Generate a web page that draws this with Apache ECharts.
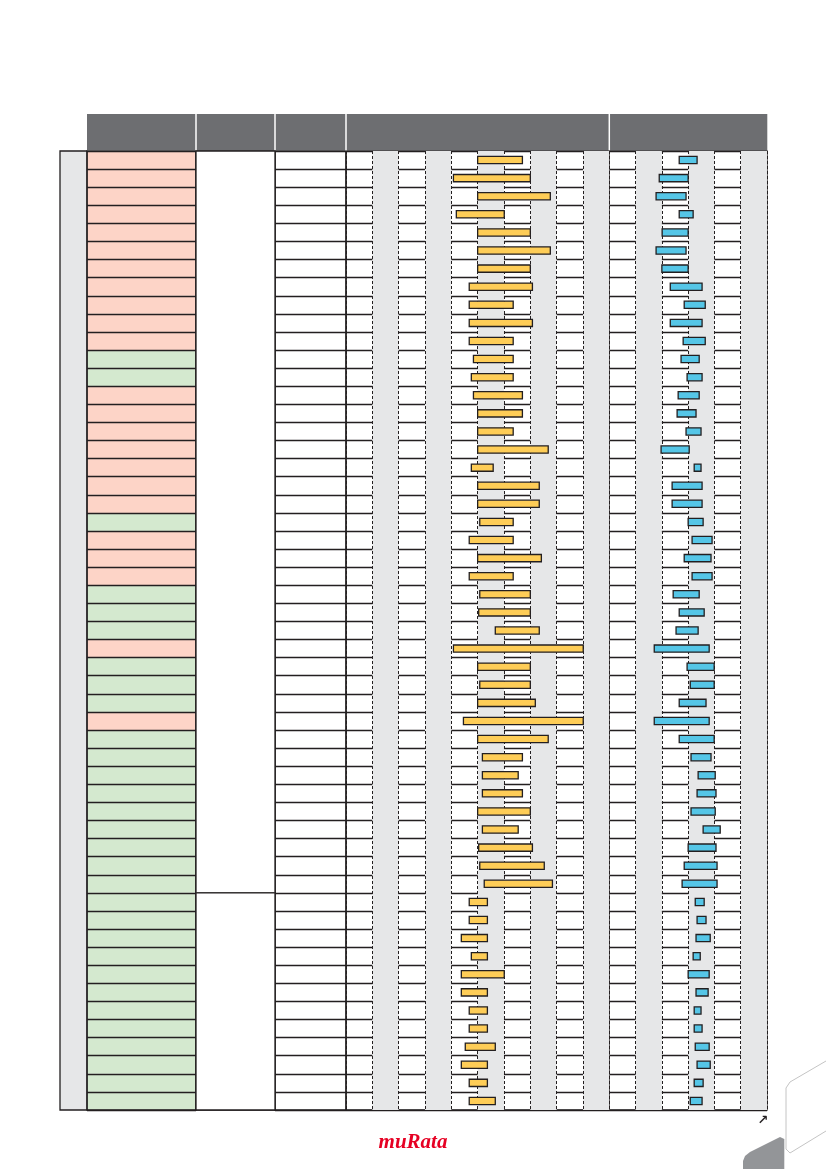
<!DOCTYPE html>
<html><head><meta charset="utf-8">
<script src="https://cdn.jsdelivr.net/npm/echarts@6/dist/echarts.min.js"></script>
<style>html,body{margin:0;padding:0;background:#fff}#c{width:826px;height:1169px}</style>
</head><body><div id="c"></div>
<script>
// ---- data ----
const rowIds = ['1','2','3','4','5','6','7','8','9','10','11','12','13','14','15','16','17','18','19','20',
  '21','22','23','24','25','26','27','28','29','30','31','32','33','34','35','36','37','38','39','40',
  '41','42','43','44','45','46','47','48','49','50','51','52','53'];
const rowType = ['p','p','p','p','p','p','p','p','p','p','p','g','g','p','p','p','p','p','p','p',
  'g','p','p','p','g','g','g','p','g','g','g','p','g','g','g','g','g','g','g','g',
  'g','g','g','g','g','g','g','g','g','g','g','g','g'];
const groupSpans = [[0,40],[41,52]];
const yellowStart = [5.0,4.08,5.0,4.19,5.0,5.0,5.0,4.68,4.68,4.68,4.68,4.84,4.76,
  4.84,5.0,5.0,5.0,4.76,5.0,5.0,5.08,4.68,5.0,4.68,5.08,5.04,
  5.67,4.08,5.0,5.08,5.0,4.46,5.0,5.18,5.18,5.18,5.0,5.18,5.04,
  5.08,5.25,4.68,4.68,4.38,4.76,4.38,4.38,4.68,4.68,4.53,4.38,4.68,4.68];
const yellowEnd = [6.7,7.0,7.76,6.01,7.0,7.76,7.0,7.08,6.35,7.08,6.35,6.35,6.35,
  6.7,6.7,6.35,7.68,5.59,7.34,7.34,6.35,6.35,7.42,6.35,7.0,7.0,
  7.34,9.01,7.0,7.0,7.19,9.01,7.68,6.7,6.54,6.7,7.0,6.54,7.08,
  7.53,7.84,5.37,5.37,5.37,5.37,6.01,5.37,5.37,5.37,5.67,5.37,5.37,5.67];
const blueStart = [2.66,1.9,1.78,2.66,2.01,1.78,2.0,2.32,2.85,2.32,2.81,2.73,2.96,
  2.62,2.58,2.92,1.97,3.23,2.39,2.39,3.0,3.15,2.85,3.15,2.43,2.66,
  2.54,1.71,2.96,3.08,2.66,1.71,2.66,3.11,3.38,3.34,3.11,3.57,3.0,
  2.85,2.77,3.27,3.34,3.30,3.19,3.0,3.30,3.23,3.23,3.27,3.34,3.23,3.08];
const blueEnd = [3.34,3.0,2.92,3.19,3.0,2.92,3.0,3.53,3.65,3.53,3.65,3.42,3.53,
  3.42,3.30,3.49,3.04,3.49,3.53,3.53,3.57,3.91,3.87,3.91,3.42,3.61,
  3.38,3.80,3.99,3.99,3.68,3.80,3.99,3.87,4.03,4.06,4.03,4.22,4.06,
  4.10,4.10,3.61,3.68,3.84,3.46,3.80,3.76,3.49,3.53,3.80,3.84,3.57,3.53];
const yellowMax = 10;
const blueMax = 6;

// ---- styles ----
const LINE = '#231f20', PINK = '#fdd4c7', GREEN = '#d4e9cf', GRAY = '#e6e7e8';
const YELLOW = '#fecd57', BLUE = '#55c6e7', HEAD = '#6d6e71';
const TOP = 151, H = 959;
const cols = [[60,27],[87,109],[196,79],[275,71],[346,263.3],[609.3,157.7]];

const grids = cols.map(([l,w],i) => ({left:l, width:w, top:TOP, height:H, show:true,
  borderColor:LINE, borderWidth:1.3, backgroundColor: i===0 ? GRAY : 'transparent'}));

const hiddenX = gi => ({type:'value', gridIndex:gi, min:0, max:1, show:false});
const rangeX = (gi,max) => ({type:'value', gridIndex:gi, min:0, max:max, interval:1,
  axisLine:{show:false}, axisTick:{show:false}, axisLabel:{show:false},
  splitLine:{show:true, lineStyle:{color:LINE, width:1, type:[3,2]}},
  splitArea:{show:true, areaStyle:{color:['rgba(255,255,255,0)', GRAY]}}});
const rowY = (gi, lines) => ({type:'category', gridIndex:gi, data:rowIds, inverse:true,
  boundaryGap:true, axisLine:{show:false}, axisTick:{show:false}, axisLabel:{show:false},
  splitLine:{show:lines, interval:0, lineStyle:{color:LINE, width:1.3}}});

function rangeRender(color){
  return function(params, api){
    const s = api.coord([api.value(0), api.value(2)]);
    const e = api.coord([api.value(1), api.value(2)]);
    const h = api.size([0,1])[1] * 0.4;
    return {type:'rect', shape:{x:s[0], y:s[1]-h/2, width:e[0]-s[0], height:h},
      style:{fill:color, stroke:LINE, lineWidth:1.3}};
  };
}

const option = {
  animation:false,
  backgroundColor:'#fff',
  grid: grids,
  xAxis: [hiddenX(0), hiddenX(1), hiddenX(2), hiddenX(3), rangeX(4,yellowMax), rangeX(5,blueMax)],
  yAxis: [rowY(0,false), rowY(1,true), rowY(2,false), rowY(3,true), rowY(4,true), rowY(5,true)],
  series: [
    {type:'bar', xAxisIndex:1, yAxisIndex:1, barWidth:'100%', silent:true, z:-1,
     data: rowType.map(t => ({value:1, itemStyle:{color: t==='p' ? PINK : GREEN}}))},
    {type:'custom', xAxisIndex:2, yAxisIndex:2, silent:true, encode:{y:[0,1]},
     data: groupSpans,
     renderItem:function(params, api){
       const band = api.size([0,1])[1];
       const y0 = api.coord([0, api.value(0)])[1] - band/2;
       const y1 = api.coord([0, api.value(1)])[1] + band/2;
       const cs = params.coordSys;
       return {type:'rect', shape:{x:cs.x, y:y0, width:cs.width, height:y1-y0},
         style:{fill:'#fff', stroke:LINE, lineWidth:1.3}};
     }},
    {type:'custom', xAxisIndex:4, yAxisIndex:4, silent:true, encode:{x:[0,1], y:2},
     data: yellowStart.map((v,i) => [v, yellowEnd[i], i]), renderItem: rangeRender(YELLOW)},
    {type:'custom', xAxisIndex:5, yAxisIndex:5, silent:true, encode:{x:[0,1], y:2},
     data: blueStart.map((v,i) => [v, blueEnd[i], i]), renderItem: rangeRender(BLUE)}
  ],
  graphic: [
    {type:'rect', shape:{x:87, y:114, width:680.3, height:36.4}, style:{fill:HEAD}},
    {type:'line', shape:{x1:196, y1:114, x2:196, y2:150.4}, style:{stroke:'#fff', lineWidth:1.5}},
    {type:'line', shape:{x1:275, y1:114, x2:275, y2:150.4}, style:{stroke:'#fff', lineWidth:1.5}},
    {type:'line', shape:{x1:346, y1:114, x2:346, y2:150.4}, style:{stroke:'#fff', lineWidth:1.5}},
    {type:'line', shape:{x1:609.3, y1:114, x2:609.3, y2:150.4}, style:{stroke:'#fff', lineWidth:1.5}},
    {type:'text', x:763, y:1121, style:{text:'↗', fill:LINE, font:'bold 13px "DejaVu Sans"', align:'center', verticalAlign:'middle'}},
    {type:'text', x:413, y:1143, style:{text:'muRata', fill:'#e60023', font:'italic bold 21px "Liberation Serif"', align:'center', verticalAlign:'middle'}},
    {type:'polyline', shape:{points:[[826,1061],[790,1082],[786,1088],[786,1149],[790,1153],[826,1131]]},
     style:{stroke:'#c4c4c4', lineWidth:1, fill:null}},
    {type:'polygon', shape:{points:[[743,1169],[743,1161],[745,1156],[750,1152],[780,1137],[784.3,1139],[784.3,1169]]},
     style:{fill:'#939598'}}
  ]
};
echarts.init(document.getElementById('c'), null, {renderer:'canvas'}).setOption(option);
</script></body></html>
